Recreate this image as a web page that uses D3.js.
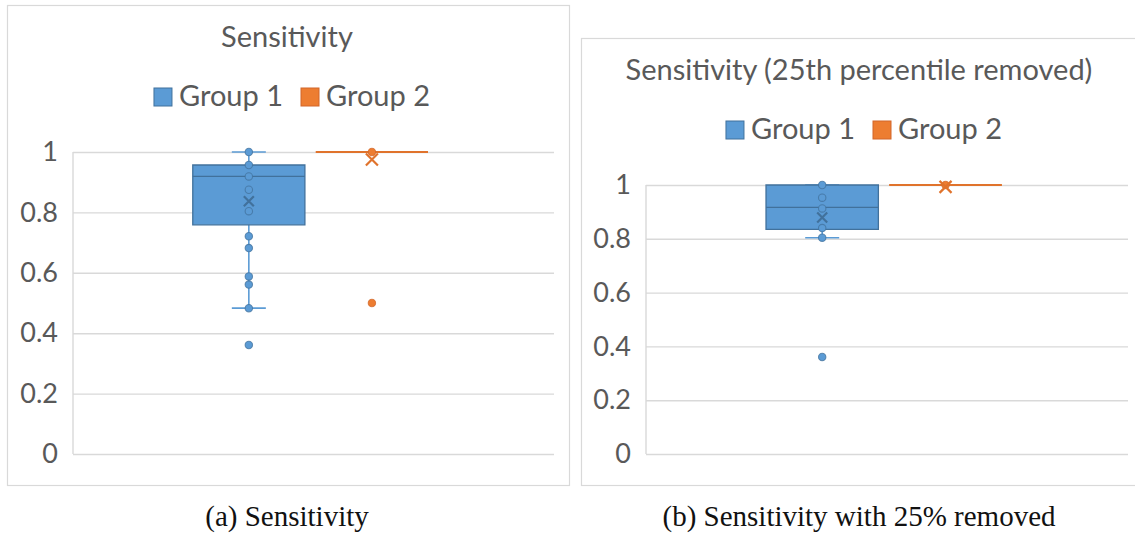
<!DOCTYPE html>
<html>
<head>
<meta charset="utf-8">
<script src="https://cdn.jsdelivr.net/npm/d3@7"></script>
<style>
  html, body { margin: 0; padding: 0; background: #fff; }
  svg { display: block; }
</style>
</head>
<body>
<svg id="chart" width="1135" height="534"></svg>
<script>
// ---- Data -------------------------------------------------------------
const groups = ["Group 1", "Group 2"];
const yTicks = [0, 0.2, 0.4, 0.6, 0.8, 1];

// Panel (a): all subjects
const aQ1        = [0.759, 1];
const aMedian    = [0.919, 1];
const aQ3        = [0.957, 1];
const aWhiskerLo = [0.483, 1];
const aWhiskerHi = [1, 1];
const aMean      = [0.837, 0.975];
const aPoints1   = [1, 0.957, 0.919, 0.875, 0.804, 0.721, 0.682, 0.588, 0.561, 0.483, 0.361];
const aPoints2   = [1, 0.5];

// Panel (b): lowest quarter removed
const bQ1        = [0.835, 1];
const bMedian    = [0.917, 1];
const bQ3        = [1, 1];
const bWhiskerLo = [0.804, 1];
const bWhiskerHi = [1, 1];
const bMean      = [0.879, 0.993];
const bPoints1   = [1, 0.953, 0.913, 0.84, 0.804, 0.361];
const bPoints2   = [1];

// ---- Styles -----------------------------------------------------------
const fill   = ["#5B9BD5", "#ED7D31"];
const stroke = ["#41719C", "#D2672A"];
const whiskerColor = ["#5B9BD5", "#E0732C"];
const textGray = "#595959";
const gridGray = "#D9D9D9";
const uiFont = "Lato, 'Open Sans', sans-serif";
const capFont = "'Liberation Serif', 'DejaVu Serif', serif";

const svg = d3.select("#chart");

function drawPanel(p) {
  const g = svg.append("g");

  // frame
  g.append("rect")
    .attr("x", p.frame[0] + 0.5).attr("y", p.frame[1] + 0.5)
    .attr("width", p.frame[2] - p.frame[0]).attr("height", p.frame[3] - p.frame[1])
    .attr("fill", "#fff").attr("stroke", gridGray).attr("stroke-width", 1.2);

  // title
  g.append("text")
    .attr("x", p.cx).attr("y", p.titleY)
    .attr("text-anchor", "middle")
    .attr("font-family", uiFont).attr("font-size", 29)
    .attr("fill", textGray)
    .text(p.title);

  // legend, centred on the panel
  const leg = g.append("g");
  let lx = 0;
  groups.forEach((name, i) => {
    const item = leg.append("g").attr("transform", `translate(${lx},0)`);
    item.append("rect")
      .attr("x", 0).attr("y", -18).attr("width", 18).attr("height", 18)
      .attr("fill", fill[i]).attr("stroke", stroke[i]).attr("stroke-width", 1);
    const t = item.append("text")
      .attr("x", 25).attr("y", 0)
      .attr("font-family", uiFont).attr("font-size", 29)
      .attr("fill", textGray)
      .text(name);
    lx += 25 + t.node().getComputedTextLength() + 18;
  });
  const legW = lx - 18;
  leg.attr("transform", `translate(${p.legendCx - legW / 2},${p.legendY})`);

  // scales
  const y = d3.scaleLinear().domain([0, 1]).range([p.plot[3], p.plot[1]]);
  const pw = p.plot[2] - p.plot[0];
  const x = d3.scaleBand()
    .domain(groups)
    .range([p.plot[0] + pw * 0.249, p.plot[2] - pw * 0.262])
    .paddingInner(0.089).paddingOuter(0);

  // gridlines + tick labels
  const axis = d3.axisLeft(y)
    .tickValues(yTicks)
    .tickSize(-pw)
    .tickPadding(15)
    .tickFormat(d => String(d));
  const ax = g.append("g")
    .attr("transform", `translate(${p.plot[0]},0)`)
    .call(axis);
  ax.select(".domain").remove();
  ax.selectAll(".tick line").attr("stroke", gridGray).attr("stroke-width", 1.4);
  ax.selectAll(".tick text")
    .attr("font-family", uiFont).attr("font-size", 27)
    .attr("fill", textGray);

  // vertical axis line
  g.append("line")
    .attr("x1", p.plot[0]).attr("x2", p.plot[0])
    .attr("y1", y(0)).attr("y2", y(1))
    .attr("stroke", gridGray).attr("stroke-width", 1.4);

  // boxes
  groups.forEach((name, i) => {
    const x0 = x(name), bw = x.bandwidth(), cx = x0 + bw / 2;
    const s = g.append("g");

    // whiskers
    s.append("line")
      .attr("x1", cx).attr("x2", cx)
      .attr("y1", y(p.whiskerLo[i])).attr("y2", y(p.q1[i]))
      .attr("stroke", whiskerColor[i]).attr("stroke-width", 1.6);
    s.append("line")
      .attr("x1", cx).attr("x2", cx)
      .attr("y1", y(p.q3[i])).attr("y2", y(p.whiskerHi[i]))
      .attr("stroke", whiskerColor[i]).attr("stroke-width", 1.6);
    [p.whiskerLo[i], p.whiskerHi[i]].forEach(v => {
      s.append("line")
        .attr("x1", cx - 17).attr("x2", cx + 17)
        .attr("y1", y(v)).attr("y2", y(v))
        .attr("stroke", whiskerColor[i]).attr("stroke-width", 1.6);
    });

    // box (a path so that a zero-height box still shows as a line)
    const yt = y(p.q3[i]), yb = y(p.q1[i]);
    const flat = Math.abs(yb - yt) < 0.5;
    s.append("path")
      .attr("d", `M${x0},${yt}H${x0 + bw}V${yb}H${x0}Z`)
      .attr("fill", fill[i])
      .attr("stroke", flat ? whiskerColor[i] : stroke[i])
      .attr("stroke-width", flat ? 2 : 1.3);
    // median
    s.append("line")
      .attr("x1", x0).attr("x2", x0 + bw)
      .attr("y1", y(p.median[i])).attr("y2", y(p.median[i]))
      .attr("stroke", flat ? whiskerColor[i] : stroke[i])
      .attr("stroke-width", flat ? 2 : 1.3);

    // data points
    s.selectAll("circle.pt")
      .data(p.points[i])
      .join("circle")
      .attr("class", "pt")
      .attr("cx", cx).attr("cy", d => y(d))
      .attr("r", 3.7)
      .attr("fill", fill[i])
      .attr("stroke", stroke[i])
      .attr("stroke-opacity", 0.75)
      .attr("stroke-width", 1.1);

    // mean marker
    const my = y(p.mean[i]), m = i === 0 ? 5 : 6;
    s.append("path")
      .attr("d", `M${cx - m},${my - m}L${cx + m},${my + m}M${cx - m},${my + m}L${cx + m},${my - m}`)
      .attr("stroke", i === 0 ? stroke[i] : whiskerColor[i])
      .attr("stroke-width", 2.2)
      .attr("fill", "none");
  });

  // caption
  svg.append("text")
    .attr("x", p.cx).attr("y", 526)
    .attr("text-anchor", "middle")
    .attr("font-family", capFont).attr("font-size", 29)
    .attr("fill", "#111")
    .text(p.caption);
}

drawPanel({
  frame: [7, 5, 569, 485],
  plot: [73, 152, 554, 454],
  cx: 287, titleY: 47, legendCx: 292, legendY: 106,
  title: "Sensitivity",
  caption: "(a) Sensitivity",
  q1: aQ1, median: aMedian, q3: aQ3,
  whiskerLo: aWhiskerLo, whiskerHi: aWhiskerHi, mean: aMean,
  points: [aPoints1, aPoints2]
});

drawPanel({
  frame: [581, 38, 1145, 485],
  plot: [646, 185, 1128, 454],
  cx: 859, titleY: 80, legendCx: 864, legendY: 139,
  title: "Sensitivity (25th percentile removed)",
  caption: "(b) Sensitivity with 25% removed",
  q1: bQ1, median: bMedian, q3: bQ3,
  whiskerLo: bWhiskerLo, whiskerHi: bWhiskerHi, mean: bMean,
  points: [bPoints1, bPoints2]
});
</script>
</body>
</html>
